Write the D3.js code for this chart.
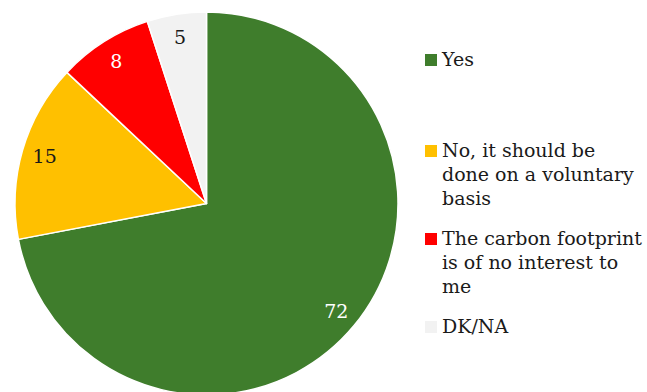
<!DOCTYPE html>
<html>
<head>
<meta charset="utf-8">
<script src="https://cdn.jsdelivr.net/npm/d3@7"></script>
<style>
  html, body { margin: 0; padding: 0; background: #fff; }
  svg { display: block; }
</style>
</head>
<body>
<svg id="chart" width="647" height="392"></svg>
<script>
// Survey answers and their shares (%)
const categories = ["Yes", "No, it should be done on a voluntary basis", "The carbon footprint is of no interest to me", "DK/NA"];
const values = [72, 15, 8, 5];
const legendLines = [
  ["Yes"],
  ["No, it should be", "done on a voluntary", "basis"],
  ["The carbon footprint", "is of no interest to", "me"],
  ["DK/NA"]
];
const colors = ["#3f7d2c", "#ffc000", "#ff0000", "#f2f2f2"];
const labelColors = ["#ffffff", "#1a1a1a", "#ffffff", "#1a1a1a"];

const svg = d3.select("#chart");
const font = "'DejaVu Serif', Georgia, serif";

const cx = 206.5, cy = 203.5, r = 191.5;

const data = categories.map((c, i) => ({ cat: c, value: values[i], i }));
const pie = d3.pie().value(d => d.value).sort(null);
const arcs = pie(data);

const arc = d3.arc().innerRadius(0).outerRadius(r);
const labelArc = d3.arc().innerRadius(r * 0.88).outerRadius(r * 0.88);

const g = svg.append("g").attr("transform", `translate(${cx},${cy})`);

g.selectAll("path")
  .data(arcs)
  .join("path")
  .attr("d", arc)
  .attr("fill", d => colors[d.data.i])
  .attr("stroke", "#ffffff")
  .attr("stroke-width", 1.5)
  .attr("stroke-linejoin", "round");

g.selectAll("text.val")
  .data(arcs)
  .join("text")
  .attr("class", "val")
  .attr("transform", d => `translate(${labelArc.centroid(d)})`)
  .attr("text-anchor", "middle")
  .attr("dy", "0.35em")
  .attr("font-family", font)
  .attr("font-size", 19)
  .attr("fill", d => labelColors[d.data.i])
  .text(d => d.data.value);

// Legend
const legendX = 425;
const legendTops = [66, 157, 245, 333];
const lineH = 24;
const legend = svg.append("g");
categories.forEach((c, i) => {
  const y0 = legendTops[i];
  legend.append("rect")
    .attr("x", legendX)
    .attr("y", y0 - 12)
    .attr("width", 12)
    .attr("height", 12)
    .attr("fill", colors[i]);
  const t = legend.append("text")
    .attr("x", legendX + 17)
    .attr("y", y0)
    .attr("font-family", font)
    .attr("font-size", 19)
    .attr("fill", "#1a1a1a");
  legendLines[i].forEach((line, k) => {
    t.append("tspan")
      .attr("x", legendX + 17)
      .attr("y", y0 + k * lineH)
      .text(line);
  });
});
</script>
</body>
</html>
